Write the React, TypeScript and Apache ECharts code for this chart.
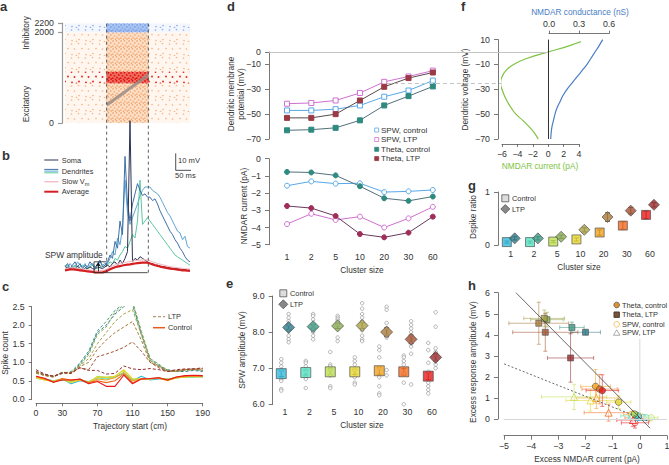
import React, { useEffect, useRef } from 'react';
import * as echarts from 'echarts';

const FONT = '"Liberation Sans", Arial, Helvetica, sans-serif';
const TXT = '#333';
const AX = '#555';
const TICK_FS = 8.8;
const TITLE_FS = 8.3;
const LEG_FS = 7.4;

// ---------- shared ----------
const clusterSizes = ['1', '2', '5', '10', '20', '30', '60'];
const clusterPos = [1, 2, 3, 4, 5, 6, 7];
const controlColors = ['#31b9dc', '#52e2c2', '#bde04e', '#e6d62e', '#f0a21f', '#f26a1d', '#e61a1c'];
const ltpColors = ['#2f7b88', '#3f9a85', '#8aab52', '#aaa145', '#a9793a', '#a2512f', '#992b2d'];

// ---------- a: raster (density regions: t0, t1, neuron0, neuron1) ----------
const rasterTicks = [0, 2000, 2200];
const rasterRegions = [
  [0, 300, 0, 2000],
  [100, 200, 0, 2000],
  [0, 300, 880, 1130],
  [100, 200, 880, 1130],
  [0, 300, 2000, 2200],
  [100, 200, 2000, 2200],
];
const trajectory = [[100, 400], [200, 1060]];

// ---------- b: traces ----------
const bTime = [0, 6, 12, 18, 24, 30, 36, 42, 48, 54, 60, 66, 72, 78, 84, 90, 96, 102, 108, 114, 120, 126, 132, 138, 144, 150, 156, 162, 168, 174, 180, 186, 192, 198, 204, 210, 216, 222, 228, 234, 240, 246, 252, 258, 264, 270, 276, 282, 288, 294, 300];
const soma = [2, 3, 1.5, 2.5, 2, 3.5, 2, 1, 2.5, 2, 3, 2, 1.5, 3, 2.5, 2, 3, 4, 3, 5, 6, 4, 7, 5, 8, 12, 89, 6, 8, 7, 9, 8, 7, 6, 5, 5, 4, 4, 3.5, 3, 3, 2.5, 2.5, 2, 2, 2, 1.5, 1.5, 1.5, 1, 1];
const dend1 = [3, 5, 2, 4, 6, 3, 5, 2, 4, 3, 6, 4, 2, 5, 7, 3, 4, 6, 10, 8, 18, 14, 30, 22, 68, 40, 30, 40, 46, 52, 48, 45, 46, 44, 44, 42, 43, 40, 36, 33, 30, 27, 24, 22, 19, 17, 14, 12, 9, 7, 6];
const dend2 = [4, 2, 5, 3, 3, 6, 4, 3, 5, 2, 4, 5, 3, 4, 6, 4, 5, 5, 8, 12, 10, 20, 16, 26, 54, 35, 28, 32, 36, 40, 45, 48, 50, 50, 50, 48, 47, 46, 44, 41, 38, 35, 33, 30, 27, 24, 23, 19, 21, 15, 14];
const dend3 = [3, 4, 2, 3, 4, 2, 3, 4, 3, 2, 3, 4, 3, 2, 3, 3, 4, 4, 6, 5, 8, 7, 10, 12, 15, 14, 18, 22, 20, 30, 54, 28, 30, 32, 30, 28, 26, 24, 22, 20, 18, 16, 14, 12, 10, 9, 8, 7, 6, 5, 4];
const slowVm = [2.0, 2.2, 2.4, 2.5, 2.3, 2.1, 1.9, 1.7, 1.5, 1.3, 1.1, 0.9, 0.8, 0.7, 0.8, 0.9, 1.3, 2.0, 2.8, 3.5, 4.1, 4.6, 5.0, 5.3, 5.6, 5.9, 6.1, 6.4, 6.6, 6.8, 7.0, 7.1, 7.2, 7.1, 6.6, 6.0, 5.5, 5.0, 4.6, 4.2, 3.9, 3.5, 3.2, 2.9, 2.7, 2.5, 2.3, 2.1, 1.9, 1.8, 1.7];
const average = [1.0, 1.2, 1.5, 1.6, 1.4, 1.2, 1.0, 0.8, 0.6, 0.4, 0.2, 0.0, -0.2, -0.3, -0.3, -0.2, 0.2, 0.8, 1.6, 2.2, 2.8, 3.2, 3.5, 3.8, 4.1, 4.3, 4.5, 4.8, 5.0, 5.2, 5.4, 5.5, 5.6, 5.5, 5.0, 4.5, 4.0, 3.6, 3.2, 2.9, 2.6, 2.3, 2.0, 1.8, 1.6, 1.4, 1.2, 1.0, 0.9, 0.8, 0.7];
const windowTimes = [100, 200];
const spwBox = [[198, -0.4], [69.6, -0.4], [69.6, 6], [100, 6]];
const scaleBar = [[265.7, 69.8], [265.7, 59.8], [315.7, 59.8]];

// ---------- c: spike count ----------
const cPos = [0, 10, 20, 30, 40, 50, 60, 70, 80, 90, 100, 110, 120, 130, 140, 150, 160, 170, 180, 190];
const cTicks = [0, 30, 70, 110, 150, 190];
const cLtp = [
  [0.72, 0.66, 0.62, 0.72, 0.72, 0.95, 1.25, 1.8, 2.0, 2.3, 2.5, 2.62, 1.8, 1.1, 0.92, 0.78, 0.75, 0.75, 0.78, 0.75],
  [0.75, 0.67, 0.63, 0.7, 0.75, 0.98, 1.3, 1.85, 2.1, 2.4, 2.58, 2.55, 1.75, 1.05, 0.9, 0.8, 0.76, 0.78, 0.8, 0.78],
  [0.7, 0.64, 0.6, 0.74, 0.7, 0.92, 1.2, 1.75, 1.95, 2.35, 2.55, 2.65, 1.85, 1.1, 0.95, 0.78, 0.78, 0.8, 0.82, 0.8],
  [0.73, 0.65, 0.62, 0.7, 0.73, 0.9, 1.1, 1.5, 1.8, 2.1, 2.3, 2.42, 1.75, 1.05, 0.9, 0.75, 0.75, 0.78, 0.8, 0.82],
  [0.72, 0.64, 0.6, 0.72, 0.7, 0.88, 1.0, 1.35, 1.6, 1.8, 1.95, 2.1, 1.6, 1.0, 0.88, 0.76, 0.76, 0.8, 0.82, 0.78],
  [0.75, 0.66, 0.62, 0.7, 0.72, 0.85, 0.8, 1.15, 1.22, 1.3, 1.4, 1.55, 1.3, 1.0, 0.85, 0.75, 0.78, 0.8, 0.82, 0.83],
  [0.8, 0.68, 0.62, 0.72, 0.7, 0.85, 0.78, 0.78, 0.68, 0.7, 0.9, 0.82, 0.8, 0.83, 0.8, 0.75, 0.8, 0.82, 0.82, 0.85],
];
const cControl = [
  [0.6, 0.55, 0.5, 0.55, 0.42, 0.5, 0.45, 0.6, 0.58, 0.6, 0.7, 0.5, 0.62, 0.52, 0.55, 0.55, 0.58, 0.6, 0.62, 0.6],
  [0.58, 0.53, 0.48, 0.52, 0.48, 0.52, 0.48, 0.58, 0.55, 0.6, 0.72, 0.52, 0.55, 0.55, 0.57, 0.55, 0.58, 0.6, 0.6, 0.62],
  [0.57, 0.52, 0.5, 0.54, 0.45, 0.55, 0.45, 0.62, 0.6, 0.62, 0.78, 0.55, 0.55, 0.55, 0.58, 0.53, 0.57, 0.6, 0.62, 0.6],
  [0.58, 0.52, 0.48, 0.55, 0.46, 0.52, 0.46, 0.6, 0.58, 0.62, 0.8, 0.55, 0.55, 0.56, 0.56, 0.54, 0.58, 0.6, 0.62, 0.61],
  [0.6, 0.55, 0.47, 0.55, 0.5, 0.53, 0.44, 0.55, 0.52, 0.58, 0.72, 0.5, 0.55, 0.55, 0.57, 0.5, 0.58, 0.62, 0.63, 0.62],
  [0.62, 0.55, 0.46, 0.56, 0.52, 0.54, 0.45, 0.5, 0.45, 0.5, 0.68, 0.45, 0.55, 0.56, 0.58, 0.52, 0.6, 0.63, 0.64, 0.63],
  [0.62, 0.57, 0.46, 0.52, 0.52, 0.55, 0.42, 0.48, 0.35, 0.35, 0.65, 0.42, 0.55, 0.56, 0.58, 0.52, 0.6, 0.64, 0.65, 0.64],
];

// ---------- d ----------
const dVTicks = [0, -10, -30, -50, -70];
const dSpwControlV = [-47, -47, -46, -43, -36, -31, -23];
const dSpwLtpV = [-41.6, -41, -39, -33, -24, -19.7, -15];
const dThetaControlV = [-63, -62.5, -61, -55, -43, -35.5, -27.7];
const dThetaLtpV = [-53, -53, -50, -39, -28, -21, -16.5];
const dSpwControlI = [-1.57, -1.32, -1.45, -1.43, -1.94, -1.9, -1.82];
const dSpwLtpI = [-3.8, -3.2, -3.56, -3.37, -4.0, -3.47, -2.8];
const dThetaControlI = [-0.77, -0.8, -0.97, -1.6, -2.3, -2.45, -2.2];
const dThetaLtpI = [-2.75, -2.87, -3.33, -4.38, -4.57, -4.3, -3.37];
const dThreshold = [[5.11, -25], [9.84, -25]];

// ---------- e ----------
const eControlMean = [6.85, 6.88, 6.9, 6.9, 6.93, 6.9, 6.78];
const eLtpMean = [8.13, 8.15, 8.17, 8.18, 8.0, 7.8, 7.3];
const eControlErr = [0.08, 0.07, 0.08, 0.07, 0.1, 0.09, 0.1];
const eLtpErr = [0.07, 0.06, 0.07, 0.08, 0.12, 0.12, 0.1];
const eControlPts = [
  [7.25, 7.15, 7.05, 6.95, 6.7, 6.65, 6.42, 6.38],
  [7.2, 7.15, 7.05, 6.9, 6.75, 6.7, 6.45],
  [7.45, 7.1, 7.05, 6.95, 6.8, 6.5, 6.45],
  [7.3, 7.2, 7.1, 6.95, 6.75, 6.6, 6.55],
  [7.6, 7.5, 7.3, 7.0, 6.75, 6.5, 6.3, 6.25],
  [7.35, 7.3, 7.2, 7.1, 6.85, 6.6, 6.0],
  [7.7, 7.5, 7.15, 6.9, 6.6, 6.5, 6.4, 6.3],
];
const eLtpPts = [
  [8.5, 8.4, 8.3, 8.2, 8.05, 7.9, 7.8, 7.72],
  [8.5, 8.45, 8.35, 8.2, 8.1, 8.0, 7.9, 7.8],
  [8.45, 8.4, 8.35, 8.3, 8.2, 7.85, 7.75],
  [8.8, 8.65, 8.5, 8.4, 8.3, 8.05, 7.9, 7.8, 7.75],
  [8.7, 8.62, 8.25, 8.1, 7.9, 7.85, 6.95, 6.8],
  [8.3, 8.2, 8.1, 8.0, 7.9, 7.7, 7.6, 7.4, 6.55],
  [8.55, 8.15, 7.55, 7.45, 7.35, 7.2, 7.1, 7.0],
];

// ---------- f ----------
const fVoltage = [10, 5, 0, -5, -10, -15, -20, -25, -30, -35, -40, -45, -50, -55, -60, -65, -70];
const fCurrent = [5.0, 2.7, 0, -2.7, -4.5, -5.5, -6.0, -6.2, -6.0, -5.7, -5.3, -4.8, -4.2, -3.3, -2.5, -1.8, -1.3];
const fConductance = [0.537, 0.5, 0.46, 0.42, 0.38, 0.33, 0.28, 0.23, 0.18, 0.14, 0.11, 0.08, 0.06, 0.045, 0.03, 0.022, 0.017];

// ---------- g ----------
const gControl = [0.06, 0.06, 0.07, 0.11, 0.24, 0.37, 0.57];
const gLtp = [0.13, 0.13, 0.16, 0.29, 0.53, 0.65, 0.76];
const gControlErr = [0.02, 0.02, 0.02, 0.03, 0.05, 0.07, 0.07];
const gLtpErr = [0.03, 0.03, 0.03, 0.04, 0.08, 0.06, 0.04];

// ---------- h: [x, y, xErr, yErr] ----------
const hThetaControl = [
  [-0.05, 0.12, 0.15, 0.08], [-0.12, 0.18, 0.15, 0.1], [-0.2, 0.24, 0.2, 0.12],
  [-0.78, 0.8, 0.45, 0.3], [-1.63, 1.55, 0.55, 0.8], [-1.48, 1.42, 0.65, 0.7], [-1.38, 1.35, 0.6, 0.75],
];
const hThetaLtp = [
  [-2.0, 4.12, 0.55, 0.1], [-2.5, 4.35, 0.45, 0.25], [-3.42, 4.72, 0.6, 0.35],
  [-3.52, 4.78, 0.75, 0.4], [-3.72, 4.55, 1.1, 1.0], [-3.48, 4.12, 1.2, 0.9], [-2.55, 2.9, 0.85, 1.15],
];
const hSpwControl = [
  [0.12, 0.08, 0.2, 0.05], [0.25, 0.06, 0.2, 0.05], [0.42, 0.06, 0.25, 0.05],
  [0.05, 0.1, 0.2, 0.08], [-0.3, 0.22, 0.3, 0.15], [-0.25, 0.05, 0.3, 0.1], [-0.18, -0.18, 0.5, 0.25],
];
const hSpwLtp = [
  [-0.1, 0.1, 0.3, 0.1], [-0.3, 0.15, 0.4, 0.1], [-2.42, 1.05, 1.2, 0.6],
  [-1.82, 0.88, 0.9, 0.5], [-1.6, 1.0, 0.8, 0.5], [-1.15, 0.3, 0.9, 0.4], [-0.25, -0.05, 0.6, 0.3],
];
const hFitTheta = [[-4.56, 6], [0.38, -0.44]];
const hFitSpw = [[-5.27, 2.76], [0.3, -0.1]];
const hZeroV = [[0, 0], [0, 3.8]];

// ---------- helpers ----------
const minusFmt = (v: number) => String(v).replace('-', '\u2212');
const plainFmt = (v: number) => String(v);
const clusterFmt = (v: number) => clusterSizes[Math.round(v) - 1] ?? '';

function vAxis(o: any) {
  const { line = true, ticks, tickLen = 4, labels = true, labelMargin = 8, fmt, color = AX, lineWidth = 0.8, ...rest } = o;
  return {
    type: 'value',
    ...rest,
    axisLine: { show: line, onZero: false, lineStyle: { color, width: lineWidth } },
    axisTick: { show: line, length: tickLen, lineStyle: { color, width: lineWidth }, ...(ticks ? { customValues: ticks } : {}) },
    axisLabel: {
      show: labels, color: TXT, fontSize: TICK_FS, fontFamily: FONT, margin: labelMargin,
      showMinLabel: true, showMaxLabel: true, hideOverlap: false,
      ...(ticks ? { customValues: ticks } : {}), formatter: fmt || plainFmt,
    },
    splitLine: { show: false },
  };
}
const hidden = (gridIndex: number, min: number, max: number) => ({ type: 'value', gridIndex, min, max, show: false, splitLine: { show: false } });

const tile = (size: number, dots: number[][], color: string, r: number) =>
  'data:image/svg+xml;charset=utf-8,' +
  encodeURIComponent(
    `<svg xmlns="http://www.w3.org/2000/svg" width="${size}" height="${size}">` +
      dots.map(([x, y]) => `<circle cx="${x}" cy="${y}" r="${r}" fill="${color}"/>`).join('') +
      '</svg>'
  );
const sparseDots = [[1.5, 2], [8.5, 1.5], [12, 6.5], [4.5, 7], [9, 11.5], [2, 12.5], [6.5, 13.5]];
const denseDots = [[1, 1], [4.5, 0.8], [6.8, 3], [2.5, 3.8], [5, 5.5], [0.8, 6.2], [7.2, 7], [3.5, 7.4]];
const rasterStyles = [
  { base: '#fef6ef', tile: tile(14, sparseDots, '#f5b88a', 0.85), size: 14 },
  { base: '#fbdfc6', tile: tile(8, denseDots, '#f4ae7c', 0.9), size: 8 },
  { base: null, tile: tile(14, sparseDots, '#e8242a', 0.9), size: 14 },
  { base: '#f06c5a', tile: tile(8, denseDots, '#dc0f18', 0.9), size: 8 },
  { base: '#f3f7fd', tile: tile(14, sparseDots, '#8cafea', 0.85), size: 14 },
  { base: '#a9c4f1', tile: tile(8, denseDots, '#7ca2e8', 0.9), size: 8 },
];

const errorBars = (colors: string[], opacity: number, cap: number) => (params: any, api: any) => {
  const x = api.value(0), y = api.value(1), xe = api.value(2), ye = api.value(3);
  const style = { stroke: colors[params.dataIndex % colors.length], lineWidth: 1, opacity };
  const ch: any[] = [];
  if (ye > 0) {
    const a = api.coord([x, y - ye]), b = api.coord([x, y + ye]);
    ch.push({ type: 'line', shape: { x1: a[0], y1: a[1], x2: b[0], y2: b[1] }, style });
    ch.push({ type: 'line', shape: { x1: a[0] - cap, y1: a[1], x2: a[0] + cap, y2: a[1] }, style });
    ch.push({ type: 'line', shape: { x1: b[0] - cap, y1: b[1], x2: b[0] + cap, y2: b[1] }, style });
  }
  if (xe > 0) {
    const a = api.coord([x - xe, y]), b = api.coord([x + xe, y]);
    ch.push({ type: 'line', shape: { x1: a[0], y1: a[1], x2: b[0], y2: b[1] }, style });
    ch.push({ type: 'line', shape: { x1: a[0], y1: a[1] - cap, x2: a[0], y2: a[1] + cap }, style });
    ch.push({ type: 'line', shape: { x1: b[0], y1: b[1] - cap, x2: b[0], y2: b[1] + cap }, style });
  }
  return { type: 'group', children: ch };
};

const T = (text: string, x: number, y: number, o: any = {}) => ({
  type: 'text', x, y, rotation: o.rot || 0, silent: true,
  style: {
    text, fill: o.color || TXT, font: `${o.bold ? 'bold ' : ''}${o.size || TITLE_FS}px ${FONT}`,
    align: o.align || 'left', verticalAlign: o.va || 'middle', textAlign: o.align || 'left', textVerticalAlign: o.va || 'middle',
  },
});
const P = (text: string, x: number, y: number) => T(text, x, y, { bold: true, size: 13, va: 'top' });
const L = (x1: number, y1: number, x2: number, y2: number, stroke: string, lineWidth = 1, lineDash?: number[]) => ({
  type: 'line', silent: true, shape: { x1, y1, x2, y2 }, style: { stroke, lineWidth, lineDash },
});
const R = (cx: number, cy: number, s: number, fill: string, stroke: string) => ({
  type: 'rect', silent: true, shape: { x: cx - s / 2, y: cy - s / 2, width: s, height: s }, style: { fill, stroke, lineWidth: 0.8 },
});
const D = (cx: number, cy: number, r: number, fill: string, stroke: string) => ({
  type: 'polygon', silent: true, shape: { points: [[cx, cy - r], [cx + r, cy], [cx, cy + r], [cx - r, cy]] }, style: { fill, stroke, lineWidth: 0.8 },
});
const C = (cx: number, cy: number, r: number, fill: string, stroke: string) => ({
  type: 'circle', silent: true, shape: { cx, cy, r }, style: { fill, stroke, lineWidth: 0.8 },
});

const dendColors = ['#3f6fa8', '#5fa6d0', '#5cc6a0'];
const dCol = { spwC: '#5aa8e8', spwL: '#d070d0', thC: '#2f8a80', thL: '#9b3a44', thLI: '#a02c5a' };

function buildOption(): any {
  const series: any[] = [];

  // a
  series.push({
    type: 'custom', xAxisIndex: 0, yAxisIndex: 0, clip: true, silent: true,
    data: rasterRegions, encode: { x: [0, 1], y: [2, 3] },
    renderItem: (params: any, api: any) => {
      const st = rasterStyles[params.dataIndex];
      const p0 = api.coord([api.value(0), api.value(3)]);
      const p1 = api.coord([api.value(1), api.value(2)]);
      const shape = { x: p0[0], y: p0[1], width: p1[0] - p0[0], height: p1[1] - p0[1] };
      const ch: any[] = [];
      if (st.base) ch.push({ type: 'rect', shape, style: { fill: st.base } });
      ch.push({ type: 'rect', shape, style: { fill: { image: st.tile, repeat: 'repeat', imageWidth: st.size, imageHeight: st.size } } });
      return { type: 'group', children: ch };
    },
  });
  series.push({ type: 'line', xAxisIndex: 0, yAxisIndex: 0, data: trajectory, symbol: 'none', lineStyle: { color: '#9a8c84', width: 3, opacity: 0.85 } });

  // b
  const tr = (vals: number[], color: string, width: number, z = 2) => ({
    type: 'line', xAxisIndex: 1, yAxisIndex: 1, clip: false, symbol: 'none', z,
    data: bTime.map((t, i) => [t, vals[i]]), lineStyle: { color, width },
  });
  series.push(tr(dend2, dendColors[1], 1));
  series.push(tr(dend3, dendColors[2], 1));
  series.push(tr(dend1, dendColors[0], 1));
  series.push(tr(soma, '#2c3352', 1));
  series.push(tr(slowVm, '#f2c0c8', 1.2));
  series.push(tr(average, '#d42020', 2.2, 3));
  windowTimes.forEach((t) => {
    series.push({
      type: 'line', xAxisIndex: 1, yAxisIndex: 1, clip: false, symbol: 'none',
      data: [[t, -0.4], [t, 146.5]], lineStyle: { color: '#333', width: 0.8, type: [3, 3] },
    });
  });
  series.push({
    type: 'line', xAxisIndex: 1, yAxisIndex: 1, clip: false, symbol: 'none', data: spwBox, lineStyle: { color: '#222', width: 0.8 },
    markLine: {
      silent: true, symbol: ['none', 'arrow'], symbolSize: 4, label: { show: false },
      lineStyle: { color: '#111', width: 0.8, type: 'solid' },
      data: [[{ coord: [80, 0.3] }, { coord: [80, 5.6] }]],
    },
  });
  series.push({ type: 'line', xAxisIndex: 1, yAxisIndex: 1, clip: false, symbol: 'none', data: scaleBar, lineStyle: { color: '#222', width: 0.8 } });

  // c
  cControl.forEach((vals, k) => {
    series.push({
      type: 'line', xAxisIndex: 2, yAxisIndex: 2, symbol: 'none',
      data: cPos.map((x, i) => [x, vals[i]]), lineStyle: { color: controlColors[k], width: 1.1 },
    });
  });
  cLtp.forEach((vals, k) => {
    series.push({
      type: 'line', xAxisIndex: 2, yAxisIndex: 2, symbol: 'none',
      data: cPos.map((x, i) => [x, vals[i]]), lineStyle: { color: ltpColors[k], width: 1, type: [3, 2] },
    });
  });

  // d top
  const dLine = (xi: number, vals: number[], symbol: string, fill: string, border: string, line: string, extra: any = {}) => ({
    type: 'line', xAxisIndex: xi, yAxisIndex: xi, symbol, symbolSize: 5,
    data: clusterPos.map((x, i) => [x, vals[i]]),
    itemStyle: { color: fill, borderColor: border, borderWidth: 1 },
    lineStyle: { color: line, width: 1 }, ...extra,
  });
  series.push(dLine(3, dSpwControlV, 'rect', '#fff', dCol.spwC, dCol.spwC, {
    markLine: {
      silent: true, symbol: ['none', 'none'], label: { show: false },
      data: [
        { yAxis: 0, lineStyle: { color: '#c4c4c4', width: 1, type: 'solid' } },
        [{ coord: dThreshold[0], lineStyle: { color: '#c4c4c4', width: 1, type: [4, 3] } }, { coord: dThreshold[1] }],
      ],
    },
  }));
  series.push(dLine(3, dSpwLtpV, 'rect', '#fff', dCol.spwL, dCol.spwL));
  series.push(dLine(3, dThetaControlV, 'rect', dCol.thC, dCol.thC, '#52707a'));
  series.push(dLine(3, dThetaLtpV, 'rect', dCol.thL, dCol.thL, '#5a4a4c'));
  // d bottom
  series.push(dLine(4, dSpwControlI, 'circle', '#fff', dCol.spwC, dCol.spwC));
  series.push(dLine(4, dSpwLtpI, 'circle', '#fff', dCol.spwL, dCol.spwL));
  series.push(dLine(4, dThetaControlI, 'circle', dCol.thC, dCol.thC, '#52707a'));
  series.push(dLine(4, dThetaLtpI, 'circle', dCol.thLI, dCol.thLI, '#6a3a5c'));

  // e
  const eOff = 0.15;
  series.push({
    type: 'scatter', xAxisIndex: 5, yAxisIndex: 5, symbol: 'circle', symbolSize: 3.5,
    itemStyle: { color: '#fff', borderColor: '#8a8a8a', borderWidth: 0.8 },
    data: eControlPts.flatMap((arr, i) => arr.map((v) => [clusterPos[i] - eOff, v])),
  });
  series.push({
    type: 'scatter', xAxisIndex: 5, yAxisIndex: 5, symbol: 'circle', symbolSize: 3.5,
    itemStyle: { color: '#fff', borderColor: '#8a8a8a', borderWidth: 0.8 },
    data: eLtpPts.flatMap((arr, i) => arr.map((v) => [clusterPos[i] + eOff, v])),
  });
  series.push({
    type: 'custom', xAxisIndex: 5, yAxisIndex: 5, clip: false, silent: true, encode: { x: 0, y: 1 },
    renderItem: errorBars(['#555'], 0.9, 2.5),
    data: eControlMean.map((m, i) => [clusterPos[i] - eOff, m, 0, eControlErr[i]]),
  });
  series.push({
    type: 'custom', xAxisIndex: 5, yAxisIndex: 5, clip: false, silent: true, encode: { x: 0, y: 1 },
    renderItem: errorBars(['#555'], 0.9, 2.5),
    data: eLtpMean.map((m, i) => [clusterPos[i] + eOff, m, 0, eLtpErr[i]]),
  });
  series.push({
    type: 'scatter', xAxisIndex: 5, yAxisIndex: 5, symbol: 'rect', symbolSize: 10,
    data: eControlMean.map((m, i) => ({ value: [clusterPos[i] - eOff, m], itemStyle: { color: controlColors[i], borderColor: '#444', borderWidth: 0.8 } })),
  });
  series.push({
    type: 'scatter', xAxisIndex: 5, yAxisIndex: 5, symbol: 'diamond', symbolSize: 12,
    data: eLtpMean.map((m, i) => ({ value: [clusterPos[i] + eOff, m], itemStyle: { color: ltpColors[i], borderColor: '#444', borderWidth: 0.8 } })),
  });

  // f
  series.push({
    type: 'line', xAxisIndex: 6, yAxisIndex: 6, clip: false, symbol: 'none', smooth: true,
    data: fVoltage.map((v, i) => [fCurrent[i], v]), lineStyle: { color: '#7dc242', width: 1.2 },
    markLine: {
      silent: true, symbol: ['none', 'none'], label: { show: false },
      data: [{ xAxis: 0, lineStyle: { color: '#333', width: 1, type: 'solid' } }],
    },
  });
  series.push({
    type: 'line', xAxisIndex: 7, yAxisIndex: 7, clip: false, symbol: 'none', smooth: true,
    data: fVoltage.map((v, i) => [fConductance[i], v]), lineStyle: { color: '#4a7ec4', width: 1.2 },
  });

  // g
  const gOff = 0.17;
  series.push({
    type: 'custom', xAxisIndex: 8, yAxisIndex: 8, clip: false, silent: true, encode: { x: 0, y: 1 },
    renderItem: errorBars(['#444'], 0.9, 2.5),
    data: gControl.map((m, i) => [clusterPos[i] - gOff, m, 0, gControlErr[i]]),
  });
  series.push({
    type: 'custom', xAxisIndex: 8, yAxisIndex: 8, clip: false, silent: true, encode: { x: 0, y: 1 },
    renderItem: errorBars(['#444'], 0.9, 2.5),
    data: gLtp.map((m, i) => [clusterPos[i] + gOff, m, 0, gLtpErr[i]]),
  });
  series.push({
    type: 'scatter', xAxisIndex: 8, yAxisIndex: 8, symbol: 'rect', symbolSize: 9,
    data: gControl.map((m, i) => ({ value: [clusterPos[i] - gOff, m], itemStyle: { color: controlColors[i], borderColor: '#444', borderWidth: 0.8 } })),
  });
  series.push({
    type: 'scatter', xAxisIndex: 8, yAxisIndex: 8, symbol: 'diamond', symbolSize: 11,
    data: gLtp.map((m, i) => ({ value: [clusterPos[i] + gOff, m], itemStyle: { color: ltpColors[i], borderColor: '#444', borderWidth: 0.8 } })),
  });

  // h
  series.push({
    type: 'line', xAxisIndex: 9, yAxisIndex: 9, clip: false, symbol: 'none', data: hZeroV,
    lineStyle: { color: '#d8d8d8', width: 1 },
    markLine: {
      silent: true, symbol: ['none', 'none'], label: { show: false },
      data: [{ yAxis: 0, lineStyle: { color: '#d8d8d8', width: 1, type: 'solid' } }],
    },
  });
  const hErr = (data: number[][], colors: string[]) => ({
    type: 'custom', xAxisIndex: 9, yAxisIndex: 9, clip: false, silent: true, encode: { x: 0, y: 1 },
    renderItem: errorBars(colors, 0.55, 2), data,
  });
  series.push(hErr(hSpwControl, controlColors));
  series.push(hErr(hSpwLtp, controlColors));
  series.push(hErr(hThetaControl, controlColors));
  series.push(hErr(hThetaLtp, ltpColors));
  series.push({ type: 'line', xAxisIndex: 9, yAxisIndex: 9, clip: false, symbol: 'none', data: hFitTheta, lineStyle: { color: '#444', width: 0.8 } });
  series.push({ type: 'line', xAxisIndex: 9, yAxisIndex: 9, clip: false, symbol: 'none', data: hFitSpw, lineStyle: { color: '#444', width: 0.8, type: [2, 2] } });
  const hPts = (data: number[][], symbol: string, size: number, filled: boolean, colors: string[]) => ({
    type: 'scatter', xAxisIndex: 9, yAxisIndex: 9, clip: false, symbol, symbolSize: size,
    data: data.map((d, i) => ({
      value: [d[0], d[1]],
      itemStyle: filled
        ? { color: colors[i], borderColor: '#444', borderWidth: 0.7 }
        : { color: 'rgba(255,255,255,0.7)', borderColor: colors[i], borderWidth: 1 },
    })),
  });
  series.push(hPts(hSpwControl, 'circle', 6, false, controlColors));
  series.push(hPts(hSpwLtp, 'triangle', 7, false, controlColors));
  series.push(hPts(hThetaControl, 'circle', 6.5, true, controlColors));
  series.push(hPts(hThetaLtp, 'rect', 6, true, ltpColors));

  const graphic: any[] = [
    // panel letters
    P('a', 0, 0), P('b', 2, 148.5), P('c', 2, 280), P('d', 227, 0),
    P('e', 226, 277), P('f', 461, 0), P('g', 468, 179), P('h', 468, 279),
    // a
    T('Inhibitory', 26, 33, { rot: Math.PI / 2, align: 'center' }),
    T('Excitatory', 26, 104, { rot: Math.PI / 2, align: 'center' }),
    // b legend
    L(44.3, 160, 58.3, 160, '#2c3352', 1), T('Soma', 61.7, 160, { size: LEG_FS }),
    L(44.3, 169.4, 58.3, 169.4, dendColors[0], 1), L(44.3, 171.1, 58.3, 171.1, dendColors[1], 1), L(44.3, 172.8, 58.3, 172.8, dendColors[2], 1),
    T('Dendrites', 61.7, 171, { size: LEG_FS }),
    L(44.3, 181.7, 58.3, 181.7, '#f2c0c8', 1.5),
    {
      type: 'text', x: 61.7, y: 181.7, silent: true,
      style: {
        text: '{a|Slow V}{b|m}', fill: TXT, verticalAlign: 'middle', textVerticalAlign: 'middle',
        rich: { a: { fontSize: LEG_FS, fontFamily: FONT, fill: TXT, lineHeight: 10 }, b: { fontSize: 5.5, fontFamily: FONT, fill: TXT, lineHeight: 10, verticalAlign: 'bottom', padding: [3, 0, 0, 0] } },
      },
    },
    L(44.3, 191.7, 58.3, 191.7, '#d42020', 2), T('Average', 61.7, 191.7, { size: LEG_FS }),
    T('10 mV', 178, 160.7, { size: 7.6 }),
    T('50 ms', 175, 175, { size: 7.6 }),
    T('SPW amplitude', 45, 255, { size: 8.4 }),
    // c
    T('Spike count', 5, 353, { rot: Math.PI / 2, align: 'center' }),
    T('Trajectory start (cm)', 130, 426, { align: 'center' }),
    L(153, 316.7, 165, 316.7, '#b8997a', 1.2, [3, 2]), T('LTP', 168, 316.7, { size: LEG_FS }),
    L(153, 327.7, 165, 327.7, '#e85a20', 1.5), T('Control', 168, 327.7, { size: LEG_FS }),
    // d
    T('Dendritic membrane', 230.5, 94, { rot: Math.PI / 2, align: 'center' }),
    T('potential (mV)', 241, 94, { rot: Math.PI / 2, align: 'center' }),
    T('NMDAR current (pA)', 244, 206, { rot: Math.PI / 2, align: 'center' }),
    T('Cluster size', 362, 270, { align: 'center' }),
    R(376.7, 130, 4, '#fff', dCol.spwC), T('SPW, control', 381, 130, { size: 8 }),
    R(376.7, 139.5, 4, '#fff', dCol.spwL), T('SPW, LTP', 381, 139.5, { size: 8 }),
    R(376.7, 149.3, 4, dCol.thC, dCol.thC), T('Theta, control', 381, 149.3, { size: 8 }),
    R(376.7, 158.6, 4, dCol.thL, dCol.thL), T('Theta, LTP', 381, 158.6, { size: 8 }),
    // e
    T('SPW amplitude (mV)', 242, 350, { rot: Math.PI / 2, align: 'center' }),
    T('Cluster size', 362, 425, { align: 'center' }),
    R(283.3, 293.3, 7, '#ddd', '#555'), T('Control', 290, 293.3, { size: LEG_FS }),
    D(283.3, 304.3, 4.5, '#888', '#555'), T('LTP', 290, 304.3, { size: LEG_FS }),
    // f
    T('NMDAR conductance (nS)', 580, 11.7, { align: 'center', color: '#4a7ec4' }),
    T('NMDAR current (pA)', 540, 165.7, { align: 'center', color: '#7dc242' }),
    T('Dendritic voltage (mV)', 465, 89.5, { rot: Math.PI / 2, align: 'center' }),
    // g
    T('Dspike ratio', 473, 217, { rot: Math.PI / 2, align: 'center' }),
    T('Cluster size', 579, 267, { align: 'center' }),
    R(505.3, 198.3, 7, '#ddd', '#555'), T('Control', 512, 198.3, { size: LEG_FS }),
    D(505.3, 209, 4.5, '#888', '#555'), T('LTP', 512, 209, { size: LEG_FS }),
    // h
    T('Excess response amplitude (mV)', 473, 362, { rot: Math.PI / 2, align: 'center' }),
    T('Excess NMDAR current (pA)', 587, 459, { align: 'center' }),
    C(616.7, 305, 2.8, '#e0902c', '#555'), T('Theta, control', 622, 305, { size: LEG_FS }),
    R(616.7, 314.7, 5.5, '#7a5234', '#333'), T('Theta, LTP', 622, 314.7, { size: LEG_FS }),
    C(616.7, 324.3, 2.8, '#fff', '#f0b040'), T('SPW, control', 622, 324.3, { size: LEG_FS }),
    { type: 'polygon', silent: true, shape: { points: [[616.7, 329.8], [619.9, 335.3], [613.5, 335.3]] }, style: { fill: '#fff', stroke: '#999', lineWidth: 0.8 } },
    T('SPW, LTP', 622, 332.8, { size: LEG_FS }),
  ];

  const g = (left: number, top: number, width: number, height: number) => ({ left, top, width, height, containLabel: false, outerBoundsMode: 'none' });

  return {
    animation: false,
    backgroundColor: '#fff',
    textStyle: { fontFamily: FONT },
    grid: [
      g(65, 23.2, 125, 100),
      g(65, 119, 125, 161.5),
      g(36, 306.7, 166.7, 92.6),
      g(269, 52, 280, 87),
      g(269, 158.7, 171, 86),
      g(272.7, 296, 171.5, 108.3),
      g(502, 39.6, 77, 99.4),
      g(549, 39.6, 60, 99.4),
      g(498, 192, 163.6, 53.3),
      g(504, 292.7, 163, 126.3),
    ],
    xAxis: [
      hidden(0, 0, 300),
      hidden(1, 0, 300),
      vAxis({ gridIndex: 2, min: 0, max: 190, ticks: cTicks, offset: 4, tickLen: 3, labelMargin: 5 }),
      hidden(3, 0.259, 11.78),
      vAxis({ gridIndex: 4, min: 0.259, max: 7.296, line: false, ticks: clusterPos, fmt: clusterFmt, labelMargin: 8 }),
      vAxis({ gridIndex: 5, min: 0.5, max: 7.5, line: false, ticks: clusterPos, fmt: clusterFmt, labelMargin: 3 }),
      vAxis({ gridIndex: 6, min: -6, max: 4, ticks: [-6, -4, -2, 0, 2, 4], offset: 5, tickLen: 3, labelMargin: 5, fmt: minusFmt }),
      vAxis({ gridIndex: 7, position: 'top', min: 0, max: 0.6, ticks: [0, 0.3, 0.6], offset: 6, tickLen: 3, labelMargin: 5, fmt: (v: number) => v.toFixed(1) }),
      vAxis({ gridIndex: 8, min: 0.45, max: 7.5, line: false, ticks: clusterPos, fmt: clusterFmt, labelMargin: 4 }),
      vAxis({ gridIndex: 9, min: -5, max: 1, ticks: [-5, -4, -3, -2, -1, 0, 1], offset: 16.7, labelMargin: 6, fmt: minusFmt }),
    ],
    yAxis: [
      vAxis({ gridIndex: 0, min: 0, max: 2200, ticks: rasterTicks, offset: 3, color: '#999', lineWidth: 1.2 }),
      hidden(1, -5, 90),
      vAxis({ gridIndex: 2, min: 0, max: 2.5, ticks: [0, 0.5, 1, 1.5, 2, 2.5], offset: 4.3, tickLen: 3, labelMargin: 7, fmt: (v: number) => v.toFixed(1) }),
      vAxis({ gridIndex: 3, min: -70, max: 0, ticks: dVTicks, fmt: minusFmt }),
      vAxis({ gridIndex: 4, min: -5, max: 0, ticks: [0, -1, -2, -3, -4, -5], fmt: minusFmt }),
      vAxis({ gridIndex: 5, min: 6, max: 9, ticks: [6, 7, 8, 9], fmt: (v: number) => v.toFixed(1) }),
      vAxis({ gridIndex: 6, min: -70, max: 10, ticks: [-70, -50, -30, -10, 10], offset: 4, fmt: minusFmt }),
      hidden(7, -70, 10),
      vAxis({ gridIndex: 8, min: 0, max: 1, ticks: [0, 1] }),
      vAxis({ gridIndex: 9, min: 0, max: 6, ticks: [0, 1, 2, 3, 4, 5, 6], offset: 6 }),
    ],
    series,
    graphic: { elements: graphic },
  };
}

export default function App() {
  const ref = useRef<HTMLDivElement>(null);
  useEffect(() => {
    document.body.style.margin = '0';
    const chart = echarts.init(ref.current!, null, { renderer: 'svg' });
    chart.setOption(buildOption());
    return () => chart.dispose();
  }, []);
  return <div ref={ref} style={{ width: 669, height: 465 }} />;
}
